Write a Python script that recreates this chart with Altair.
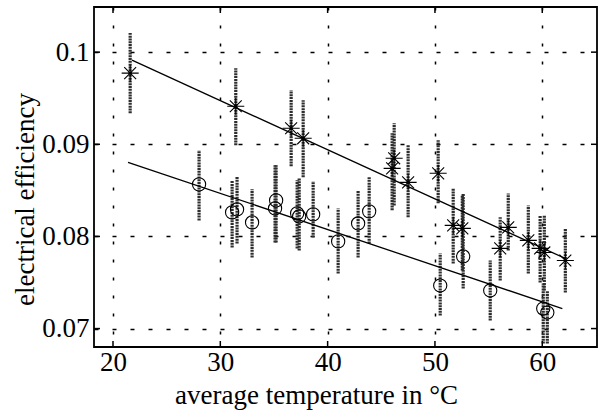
import altair as alt
import pandas as pd

# ---- data ----
star_x = [21.6, 31.44, 36.6, 37.72, 46.2, 46.01, 47.5, 50.3, 51.7, 52.55, 56.08, 56.83, 58.7, 59.8, 60.19, 62.15]
star_y = [0.09772, 0.09413, 0.09174, 0.09065, 0.08848, 0.08739, 0.08587, 0.08685, 0.0812, 0.08087, 0.0787, 0.08098, 0.07957, 0.0787, 0.07826, 0.07739]
star_hi = [0.10207, 0.09826, 0.09587, 0.09478, 0.09228, 0.0912, 0.08989, 0.09043, 0.08522, 0.08446, 0.08207, 0.08467, 0.08337, 0.08228, 0.08228, 0.08087]
star_lo = [0.09337, 0.08989, 0.08761, 0.08641, 0.08337, 0.08283, 0.08207, 0.08359, 0.07707, 0.0763, 0.07522, 0.07848, 0.07598, 0.075, 0.07413, 0.07391]

circ_x = [28.02, 31.1, 31.56, 32.96, 35.2, 35.1, 37.16, 37.35, 38.65, 40.98, 42.84, 43.87, 50.49, 52.63, 55.15, 60.09, 60.47]
circ_y = [0.08565, 0.08261, 0.08293, 0.08152, 0.08391, 0.08304, 0.0825, 0.08217, 0.08239, 0.07946, 0.08141, 0.08272, 0.07467, 0.07783, 0.07413, 0.07217, 0.07174]
circ_hi = [0.08935, 0.08609, 0.08652, 0.08511, 0.08772, 0.08772, 0.08609, 0.0863, 0.08598, 0.08304, 0.085, 0.08641, 0.07815, 0.08467, 0.07739, 0.07489, 0.07413]
circ_lo = [0.08174, 0.0788, 0.07924, 0.07772, 0.07935, 0.07935, 0.0787, 0.07848, 0.07989, 0.07598, 0.07772, 0.07924, 0.07141, 0.07435, 0.07087, 0.06837, 0.06837]

fit_upper_x = [21.77, 62.14]
fit_upper_y = [0.09913, 0.07761]
fit_lower_x = [21.4, 61.87]
fit_lower_y = [0.08804, 0.07217]

x_ticks = [20, 30, 40, 50, 60]
y_ticks = [0.07, 0.08, 0.09, 0.1]

X_DOM = [18.23, 65.1]
Y_DOM = [0.0680, 0.1049]
W, H = 503, 340
FONT = "Liberation Serif"

stars = pd.DataFrame({"x": star_x, "y": star_y, "lo": star_lo, "hi": star_hi})
circs = pd.DataFrame({"x": circ_x, "y": circ_y, "lo": circ_lo, "hi": circ_hi})
fits = pd.concat([
    pd.DataFrame({"x": fit_upper_x, "y": fit_upper_y, "s": "upper"}),
    pd.DataFrame({"x": fit_lower_x, "y": fit_lower_y, "s": "lower"}),
])
xt = pd.DataFrame({"v": x_ticks})
yt = pd.DataFrame({"v": y_ticks})

xs = alt.Scale(domain=X_DOM, nice=False, zero=False)
ys = alt.Scale(domain=Y_DOM, nice=False, zero=False)

x_axis = alt.Axis(values=x_ticks, format="d", grid=True, gridColor="black",
                  gridDash=[3, 15], gridWidth=1.5, gridOpacity=1, tickSize=0,
                  domain=False, labelFont=FONT, labelFontSize=27, labelColor="black",
                  labelPadding=2, title="average temperature in °C",
                  titleFont=FONT, titleFontSize=27, titleFontWeight="normal",
                  titleColor="black", titleX=222, titleY=56,
                  titleBaseline="alphabetic")
y_axis = alt.Axis(values=y_ticks, format=".2~f", grid=True, gridColor="black",
                  gridDash=[4, 14], gridWidth=1.5, gridOpacity=1, tickSize=0,
                  domain=False, labelFont=FONT, labelFontSize=27, labelColor="black",
                  labelPadding=5, title="electrical efficiency",
                  titleFont=FONT, titleFontSize=27, titleFontWeight="normal",
                  titleColor="black", titleX=-61, titleY=192, titleAngle=-90,
                  titleBaseline="alphabetic")

base_axes = alt.Chart(xt).mark_point(opacity=0).encode(
    x=alt.X("v:Q", scale=xs, axis=x_axis),
    y=alt.Y("v2:Q", scale=ys, axis=y_axis),
).transform_calculate(v2="0.08")

bars_s = alt.Chart(stars).mark_rule(color="#2e2e2e", strokeWidth=3.2, strokeDash=[2, 0.8]).encode(
    x=alt.X("x:Q", scale=xs), y=alt.Y("lo:Q", scale=ys), y2="hi:Q")
bars_c = alt.Chart(circs).mark_rule(color="#2e2e2e", strokeWidth=3.2, strokeDash=[2, 0.8]).encode(
    x=alt.X("x:Q", scale=xs), y=alt.Y("lo:Q", scale=ys), y2="hi:Q")

star_shape = "M-1,0L1,0M0,-1L0,1M-0.7,-0.7L0.7,0.7M-0.7,0.7L0.7,-0.7"
pts_s = alt.Chart(stars).mark_point(shape=star_shape, size=290, color="black",
                                    strokeWidth=1.1, filled=False, opacity=1).encode(
    x=alt.X("x:Q", scale=xs), y=alt.Y("y:Q", scale=ys))
pts_c = alt.Chart(circs).mark_point(shape="circle", size=175, color="black",
                                    strokeWidth=1.1, filled=False, opacity=1).encode(
    x=alt.X("x:Q", scale=xs), y=alt.Y("y:Q", scale=ys))

lines = alt.Chart(fits).mark_line(color="black", strokeWidth=1.3).encode(
    x=alt.X("x:Q", scale=xs), y=alt.Y("y:Q", scale=ys), detail="s:N")

tick_b = alt.Chart(xt).mark_rule(color="black", strokeWidth=1.5).encode(
    x=alt.X("v:Q", scale=xs), y=alt.value(H), y2=alt.value(H - 6))
tick_t = alt.Chart(xt).mark_rule(color="black", strokeWidth=1.5).encode(
    x=alt.X("v:Q", scale=xs), y=alt.value(0), y2=alt.value(6))
tick_l = alt.Chart(yt).mark_rule(color="black", strokeWidth=1.5).encode(
    y=alt.Y("v:Q", scale=ys), x=alt.value(0), x2=alt.value(6))
tick_r = alt.Chart(yt).mark_rule(color="black", strokeWidth=1.5).encode(
    y=alt.Y("v:Q", scale=ys), x=alt.value(W), x2=alt.value(W - 6))

chart = alt.layer(base_axes, bars_s, bars_c, lines, pts_s, pts_c,
                  tick_b, tick_t, tick_l, tick_r).properties(
    width=W, height=H,
    autosize=alt.AutoSizeParams(type="none"),
    padding={"left": 94, "top": 7, "right": 3, "bottom": 63},
    background="white",
).configure_view(stroke="black", strokeWidth=1.8)

chart.save("out.html", embed_options={"renderer": "svg", "actions": False})
